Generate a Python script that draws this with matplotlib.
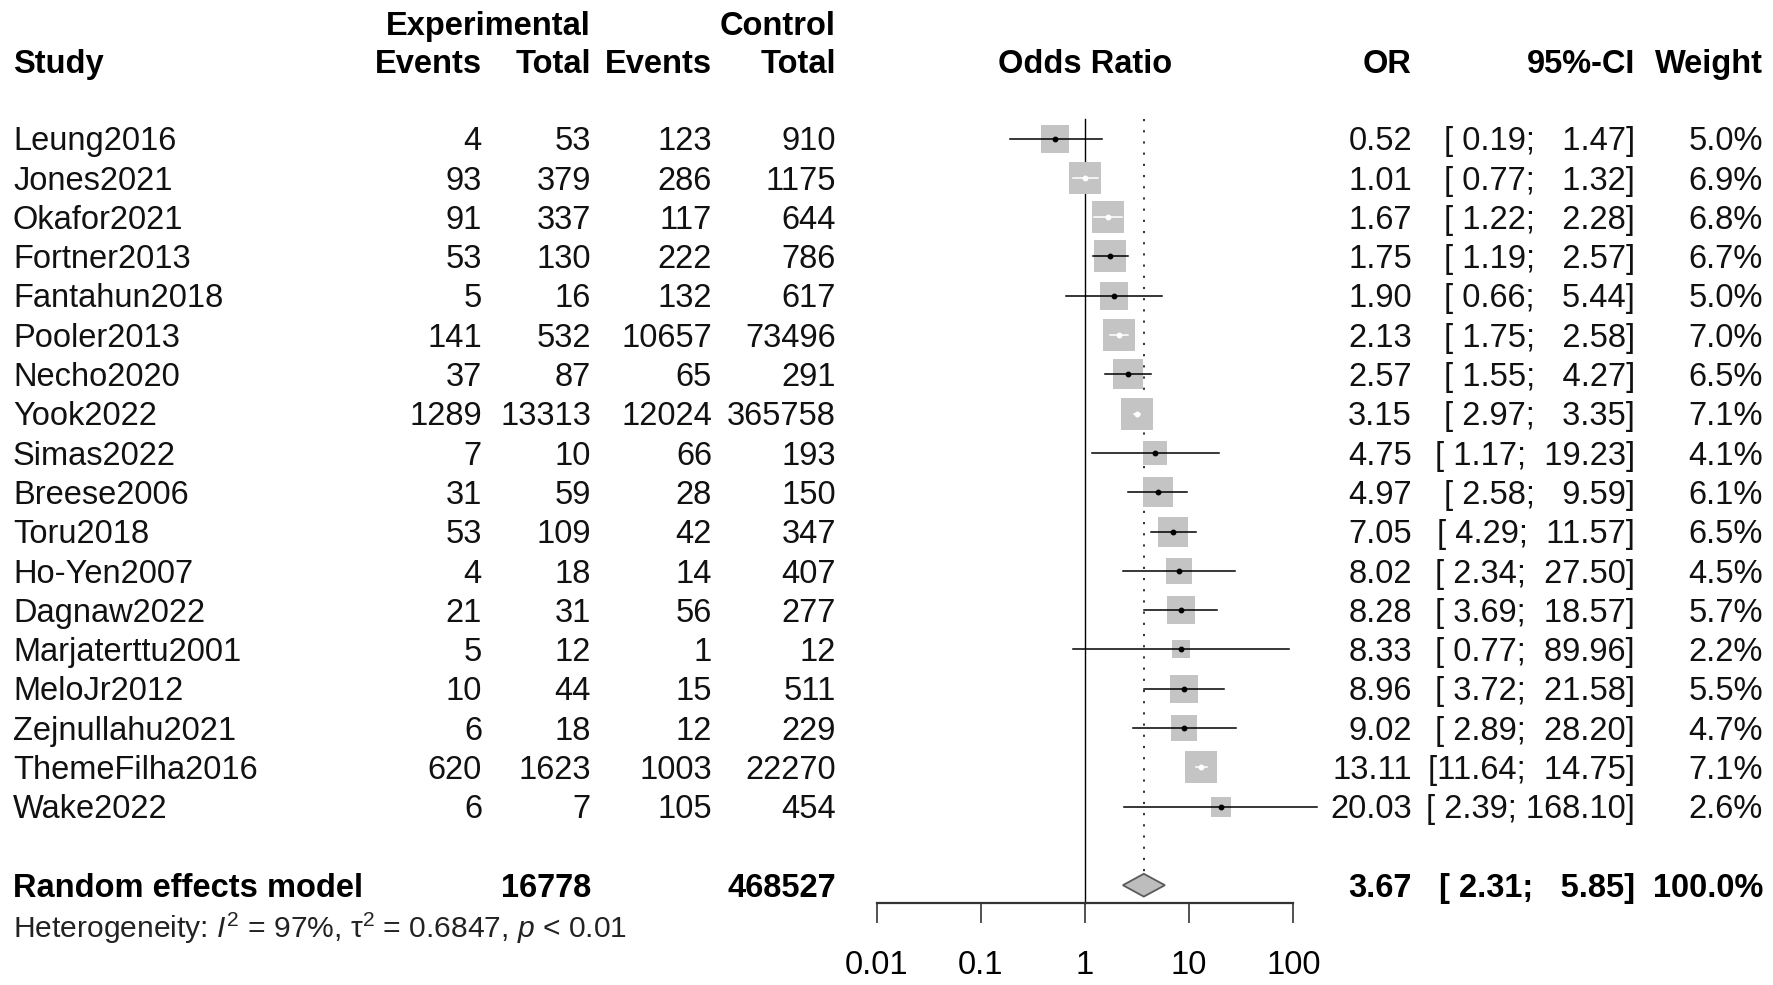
import matplotlib.pyplot as plt
import numpy as np

plt.rcParams['font.family'] = ['Liberation Sans', 'DejaVu Sans']
plt.rcParams['mathtext.fontset'] = 'custom'
plt.rcParams['mathtext.rm'] = 'Liberation Sans'
plt.rcParams['mathtext.it'] = 'Liberation Sans:italic'

studies = ["Leung2016", "Jones2021", "Okafor2021", "Fortner2013", "Fantahun2018",
           "Pooler2013", "Necho2020", "Yook2022", "Simas2022", "Breese2006",
           "Toru2018", "Ho-Yen2007", "Dagnaw2022", "Marjaterttu2001", "MeloJr2012",
           "Zejnullahu2021", "ThemeFilha2016", "Wake2022"]
exp_events = [4, 93, 91, 53, 5, 141, 37, 1289, 7, 31, 53, 4, 21, 5, 10, 6, 620, 6]
exp_total = [53, 379, 337, 130, 16, 532, 87, 13313, 10, 59, 109, 18, 31, 12, 44, 18, 1623, 7]
ctl_events = [123, 286, 117, 222, 132, 10657, 65, 12024, 66, 28, 42, 14, 56, 1, 15, 12, 1003, 105]
ctl_total = [910, 1175, 644, 786, 617, 73496, 291, 365758, 193, 150, 347, 407, 277, 12, 511, 229, 22270, 454]
odds = [0.52, 1.01, 1.67, 1.75, 1.90, 2.13, 2.57, 3.15, 4.75, 4.97, 7.05, 8.02, 8.28, 8.33, 8.96, 9.02, 13.11, 20.03]
ci_low = [0.19, 0.77, 1.22, 1.19, 0.66, 1.75, 1.55, 2.97, 1.17, 2.58, 4.29, 2.34, 3.69, 0.77, 3.72, 2.89, 11.64, 2.39]
ci_high = [1.47, 1.32, 2.28, 2.57, 5.44, 2.58, 4.27, 3.35, 19.23, 9.59, 11.57, 27.50, 18.57, 89.96, 21.58, 28.20, 14.75, 168.10]
weights = [5.0, 6.9, 6.8, 6.7, 5.0, 7.0, 6.5, 7.1, 4.1, 6.1, 6.5, 4.5, 5.7, 2.2, 5.5, 4.7, 7.1, 2.6]

pooled_or, pooled_low, pooled_high = 3.67, 2.31, 5.85
sum_exp, sum_ctl = 16778, 468527
het_text = "Heterogeneity: $I^2$ = 97%, τ$^2$ = 0.6847, $p$ < 0.01"
ticks = [0.01, 0.1, 1, 10, 100]

# layout in pixels of the 1774x985 canvas, rows in line units
W, H = 1774, 985
ROW0, ROWH = 138.5, 39.3
DECADE = 104.15
X001 = 876.7   # pixel of 0.01 on the log axis
y_top = -ROW0 / ROWH
y_bot = (H - ROW0) / ROWH
fs = 23.5
OFF = 0.3      # baseline sits this far below the row centre

# column x positions (pixels)
x_study = 13
x_ee, x_et, x_ce, x_ct = 482, 591, 712, 836
x_or, x_ci, x_w = 1412, 1635, 1763
x_head = X001 + 2 * DECADE

fig = plt.figure(figsize=(W / 100, H / 100), dpi=100)
tab = fig.add_axes([0, 0, 1, 1])
tab.set_xlim(0, W)
tab.set_ylim(y_bot, y_top)
tab.axis('off')

left_px = X001 - DECADE
fa = fig.add_axes([left_px / W, 0, 6 * DECADE / W, 1])
fa.set_xscale('log')
fa.set_xlim(1e-3, 1e3)
fa.set_ylim(y_bot, y_top)
fa.patch.set_visible(False)
for s in ['top', 'left', 'right']:
    fa.spines[s].set_visible(False)
axis_y = 19.46
fa.spines['bottom'].set_position(('data', axis_y))
fa.spines['bottom'].set_bounds(0.01, 100)
fa.spines['bottom'].set_linewidth(1.6)
fa.spines['bottom'].set_color('#333333')
fa.set_yticks([])
fa.set_xticks(ticks)
fa.set_xticklabels(["0.01", "0.1", "1", "10", "100"])
fa.minorticks_off()
fa.tick_params(axis='x', length=14.4, width=1.2, pad=19.5, labelsize=fs, color='#333333')


def put(x, y, s, ha, weight='normal', size=fs, color='#111111'):
    tab.text(x, y + OFF, s, ha=ha, va='baseline', fontsize=size,
             fontweight=weight, color=color)


# headers
h1, h2 = -2.94, -1.96
put(x_et, h1, "Experimental", 'right', 'bold', color='black')
put(x_ct, h1, "Control", 'right', 'bold', color='black')
for x, s, ha in [(x_study, "Study", 'left'), (x_ee, "Events", 'right'),
                 (x_et, "Total", 'right'), (x_ce, "Events", 'right'),
                 (x_ct, "Total", 'right'), (x_head, "Odds Ratio", 'center'),
                 (x_or, "OR", 'right'), (x_ci, "95%-CI", 'right'),
                 (x_w, "Weight", 'right')]:
    put(x, h2, s, ha, 'bold', color='black')

rows = np.arange(len(studies))
for i in rows:
    put(x_study, i, studies[i], 'left')
    put(x_ee, i, str(exp_events[i]), 'right')
    put(x_et, i, str(exp_total[i]), 'right')
    put(x_ce, i, str(ctl_events[i]), 'right')
    put(x_ct, i, str(ctl_total[i]), 'right')
    put(x_or, i, f"{odds[i]:.2f}", 'right')
    put(x_ci, i, f"[{ci_low[i]:5.2f}; {ci_high[i]:6.2f}]", 'right')
    put(x_w, i, f"{weights[i]:.1f}%", 'right')

# pooled row
pr = len(studies) + 1
put(x_study, pr, "Random effects model", 'left', 'bold', color='black')
put(x_et, pr, str(sum_exp), 'right', 'bold', color='black')
put(x_ct, pr, str(sum_ctl), 'right', 'bold', color='black')
put(x_or, pr, f"{pooled_or:.2f}", 'right', 'bold', color='black')
put(x_ci, pr, f"[{pooled_low:5.2f}; {pooled_high:6.2f}]", 'right', 'bold', color='black')
put(x_w, pr, "100.0%", 'right', 'bold', color='black')
put(x_study, pr + 1.05, het_text, 'left', size=21.6, color='#222222')

# reference lines
fa.plot([1, 1], [-0.5, axis_y], color='black', lw=1.0)
fa.plot([pooled_or, pooled_or], [-0.5, pr - 0.3], color='#222222', lw=1.3,
        linestyle=(0, (1.2, 5)))

# squares and CIs
side_px = 12.1 * np.sqrt(weights)
for i in rows:
    half = side_px[i] / 2 / DECADE
    inside = (np.log10(ci_low[i]) >= np.log10(odds[i]) - half and
              np.log10(ci_high[i]) <= np.log10(odds[i]) + half)
    col = 'white' if inside else 'black'
    fa.scatter([odds[i]], [i], marker='s', s=(side_px[i] * 0.72) ** 2,
               color='#c4c4c4', linewidths=0, zorder=2)
    fa.plot([ci_low[i], ci_high[i]], [i, i], color=col, lw=1.1, zorder=3)
    fa.plot([odds[i]], [i], marker='o', markersize=3.2, color=col, zorder=3)

# diamond
fa.fill([pooled_low, pooled_or, pooled_high, pooled_or],
        [pr, pr - 0.29, pr, pr + 0.29],
        facecolor='#bdbdbd', edgecolor='#5a5a5a', lw=1.3, zorder=3)

fig.savefig("out.png", dpi=100)
